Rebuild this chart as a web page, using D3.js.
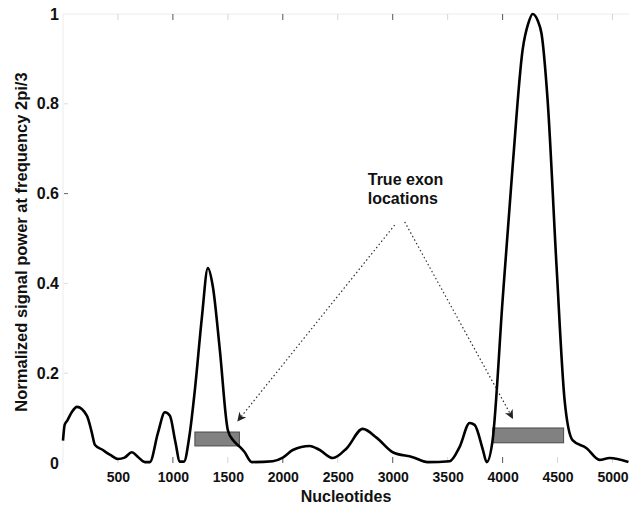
<!DOCTYPE html>
<html lang=en>
<head>
<meta charset="utf-8">
<title>Signal power</title>
<script src="https://d3js.org/d3.v7.min.js"></script>
<style>
  body { margin: 0; background: #fff; }
  #chart text { font-family: "Liberation Sans", Arial, sans-serif; font-weight: bold; fill: #111; }
  .frame { fill: none; stroke: #ececec; stroke-width: 1; }
  .signal { fill: none; stroke: #000; stroke-width: 2.6; stroke-linejoin: round; }
  .exon { fill: #818181; stroke: #4a4a4a; stroke-width: 1; }
  .pointer { stroke: #333; stroke-width: 1.2; stroke-dasharray: 1.5,2.5; fill: none; }
</style>
</head>
<body>
<div id="chart"></div>
<script>
// signal: nucleotide position -> normalized power
var nucleotides = [0, 15, 40, 82, 127, 218, 260, 291, 355, 430, 500, 560, 627, 680, 745, 790,
  864, 927, 973, 1020, 1064, 1100, 1150, 1200, 1264, 1318, 1364, 1427, 1500, 1550, 1609, 1650,
  1718, 1909, 2000, 2091, 2245, 2336, 2455, 2582, 2727, 2855, 3000, 3182, 3318, 3518, 3609,
  3700, 3745, 3820, 3855, 3909, 4000, 4091, 4182, 4235, 4273, 4320, 4355, 4409, 4491, 4564,
  4636, 4764, 4882, 4973, 5145];
var power = [0.05, 0.085, 0.095, 0.114, 0.125, 0.105, 0.07, 0.04, 0.03, 0.018, 0.009, 0.012,
  0.024, 0.014, 0.002, 0.002, 0.067, 0.113, 0.105, 0.05, 0.003, 0.003, 0.06, 0.163, 0.325,
  0.434, 0.392, 0.252, 0.073, 0.05, 0.036, 0.025, 0.002, 0.004, 0.012, 0.029, 0.038, 0.029,
  0.011, 0.033, 0.076, 0.056, 0.024, 0.013, 0.002, 0.004, 0.036, 0.089, 0.085, 0.03, 0.002,
  0.051, 0.363, 0.66, 0.92, 0.98, 1.0, 0.985, 0.955, 0.81, 0.437, 0.14, 0.051, 0.033, 0.007,
  0.011, 0.002];

// true exon locations
var exonStart = [1200, 3910];
var exonEnd = [1605, 4555];
var exonLow = [0.038, 0.045];
var exonHigh = [0.069, 0.078];

var xTicks = [500, 1000, 1500, 2000, 2500, 3000, 3500, 4000, 4500, 5000];
var yTicks = [0, 0.2, 0.4, 0.6, 0.8, 1];

// annotation: label and arrows from label to the exons
var noteLines = ["True exon", "locations"];
var arrowFrom = [[3018, 0.53], [3109, 0.537]];
var arrowTo = [[1591, 0.094], [4091, 0.1]];

(function() {
  var width = 629,
      height = 510;

  var x = d3.scaleLinear().domain([0, 5150]).range([63, 629]);
  var y = d3.scaleLinear().domain([0, 1]).range([463, 14]);

  var svg = d3.select("#chart").append("svg")
      .attr("width", width)
      .attr("height", height);

  // faint frame
  svg.append("path")
      .attr("class", "frame")
      .attr("d", "M" + x(0) + "," + y(0) + "V" + y(1) + "H" + width);

  // tick marks inside the frame, top and bottom
  var marks = svg.append("g");
  [y(0), y(1)].forEach(function(yy, k) {
    marks.selectAll(null)
        .data(xTicks)
      .enter().append("line")
        .attr("x1", function(d) { return x(d); })
        .attr("x2", function(d) { return x(d); })
        .attr("y1", yy)
        .attr("y2", k === 0 ? yy - 6 : yy + 6)
        .attr("stroke", function(d) { return d % 1000 === 0 && d < 5000 ? "#555" : "#d6d6d6"; })
        .attr("stroke-width", 1);
  });
  marks.selectAll(null)
      .data(yTicks.slice(1, -1))
    .enter().append("line")
      .attr("x1", x(0) + 1)
      .attr("x2", x(0) + 5)
      .attr("y1", function(d) { return y(d); })
      .attr("y2", function(d) { return y(d); })
      .attr("stroke", function(d) { return d === 0.6 ? "#666" : "#ddd"; });

  // axes labels via d3 axes, no lines
  var xAxis = svg.append("g")
      .attr("transform", "translate(0," + y(0) + ")")
      .call(d3.axisBottom(x).tickValues(xTicks).tickSize(0).tickPadding(9).tickFormat(d3.format("d")));
  var yAxis = svg.append("g")
      .attr("transform", "translate(" + x(0) + ",0)")
      .call(d3.axisLeft(y).tickValues(yTicks).tickSize(0).tickPadding(4)
        .tickFormat(function(d) { return d === 0 || d === 1 ? String(d) : d3.format(".1f")(d); }));
  xAxis.select(".domain").remove();
  yAxis.select(".domain").remove();
  xAxis.selectAll("text").attr("font-size", 14).attr("fill", "#111");
  yAxis.selectAll("text").attr("font-size", 16).attr("fill", "#111");

  // exon bars
  svg.selectAll(".exon")
      .data(exonStart)
    .enter().append("rect")
      .attr("class", "exon")
      .attr("x", function(d) { return x(d); })
      .attr("y", function(d, i) { return y(exonHigh[i]); })
      .attr("width", function(d, i) { return x(exonEnd[i]) - x(d); })
      .attr("height", function(d, i) { return y(exonLow[i]) - y(exonHigh[i]); });

  // signal curve
  var line = d3.line()
      .x(function(d) { return x(d[0]); })
      .y(function(d) { return y(d[1]); })
      .curve(d3.curveMonotoneX);
  svg.append("path")
      .datum(d3.zip(nucleotides, power))
      .attr("class", "signal")
      .attr("d", line);

  // arrows
  svg.append("defs").append("marker")
      .attr("id", "head")
      .attr("viewBox", "0 0 10 10")
      .attr("refX", 9)
      .attr("refY", 5)
      .attr("markerWidth", 9)
      .attr("markerHeight", 9)
      .attr("markerUnits", "userSpaceOnUse")
      .attr("orient", "auto")
    .append("path")
      .attr("d", "M0,0L10,5L0,10L3,5Z")
      .attr("fill", "#222");
  svg.selectAll(".pointer")
      .data(arrowFrom)
    .enter().append("line")
      .attr("class", "pointer")
      .attr("x1", function(d) { return x(d[0]); })
      .attr("y1", function(d) { return y(d[1]); })
      .attr("x2", function(d, i) { return x(arrowTo[i][0]); })
      .attr("y2", function(d, i) { return y(arrowTo[i][1]); })
      .attr("marker-end", "url(#head)");

  svg.append("text")
      .attr("x", x(2773))
      .attr("y", y(0.619))
      .attr("font-size", 16)
    .selectAll("tspan")
      .data(noteLines)
    .enter().append("tspan")
      .attr("x", x(2773))
      .attr("dy", function(d, i) { return i === 0 ? 0 : 19; })
      .text(function(d) { return d; });

  // axis titles
  svg.append("text")
      .attr("x", 346)
      .attr("y", 502)
      .attr("text-anchor", "middle")
      .attr("font-size", 16)
      .text("Nucleotides");
  svg.append("text")
      .attr("transform", "translate(27,242) rotate(-90)")
      .attr("text-anchor", "middle")
      .attr("font-size", 16.5)
      .text("Normalized signal power at frequency 2pi/3");
})();
</script>
</body>
</html>
